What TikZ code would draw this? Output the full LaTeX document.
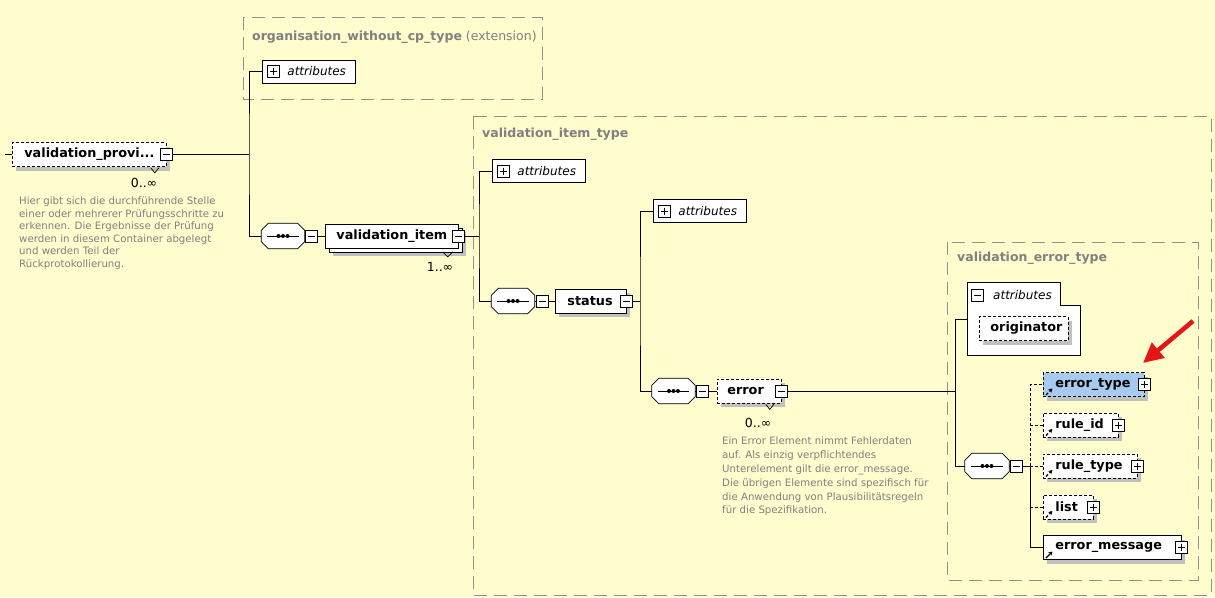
\documentclass[tikz,border=0pt]{standalone}
\usepackage{fontspec}
\setmainfont{DejaVu Sans}
\usetikzlibrary{arrows.meta,calc}
\definecolor{bgc}{RGB}{255,252,206}
\definecolor{shad}{RGB}{192,192,188}
\definecolor{tgray}{RGB}{128,128,128}
\definecolor{cgray}{RGB}{145,145,135}
\definecolor{selblue}{RGB}{166,202,240}
\definecolor{arrred}{RGB}{230,20,20}
\newcommand\seqoct[1]{%
  \fill[shad, xshift=4pt, yshift=-5pt] let \p1=(#1.north west), \p2=(#1.south east) in
    (\x1+7pt,\y1) -- (\x2-7pt,\y1) -- (\x2,\y1-7pt) -- (\x2,\y2+7pt) -- (\x2-7pt,\y2) -- (\x1+7pt,\y2) -- (\x1,\y2+7pt) -- (\x1,\y1-7pt) -- cycle;
  \filldraw[fill=white, line width=0.8pt] let \p1=(#1.north west), \p2=(#1.south east) in
    (\x1+7pt,\y1) -- (\x2-7pt,\y1) -- (\x2,\y1-7pt) -- (\x2,\y2+7pt) -- (\x2-7pt,\y2) -- (\x1+7pt,\y2) -- (\x1,\y2+7pt) -- (\x1,\y1-7pt) -- cycle;
  \draw[line width=1pt] ([xshift=6pt]#1.west) -- ([xshift=-6pt]#1.east);
  \fill ([xshift=-4.5pt]#1.center) circle[radius=2pt];
  \fill (#1.center) circle[radius=2pt];
  \fill ([xshift=4.5pt]#1.center) circle[radius=2pt];
}
\begin{document}
\begin{tikzpicture}[x=1pt,y=-1pt,
  font=\fontsize{12.8}{14}\selectfont,
  container/.style={draw=cgray, line width=1pt, dash pattern=on 13pt off 7pt},
  ctitle/.style={anchor=west, inner sep=0pt, text=tgray, font=\fontsize{12.5}{14}\selectfont\bfseries},
  shadowed/.style={preaction={fill=shad, transform canvas={shift={(4pt,-4pt)}}}},
  elembase/.style={draw, fill=white, line width=0.8pt, minimum height=24pt, inner ysep=0pt, anchor=west, align=left, font=\fontsize{12.8}{14}\selectfont\bfseries},
  elem/.style={shadowed, elembase},
  optelem/.style={elem, dash pattern=on 3pt off 2pt},
  vistack/.style={preaction={fill=shad, transform canvas={shift={(8pt,-8pt)}}},
                  preaction={draw, fill=white, line width=0.8pt, transform canvas={shift={(4pt,-4pt)}}}},
  refmark/.style={path picture={\draw[line width=1.2pt,-{Stealth[length=4pt,width=4.5pt]}] ([xshift=2.5pt,yshift=1.5pt]path picture bounding box.south west) -- ++(6.5pt,6.5pt);}},
  attrbox/.style={draw, fill=white, line width=0.8pt, minimum height=23pt, inner ysep=0pt, inner xsep=8pt, text width=77pt, anchor=west, align=left, font=\fontsize{12}{14}\selectfont\itshape},
  btn/.style={draw, fill=white, line width=0.7pt, minimum size=12pt, inner sep=0pt},
  minusbtn/.style={btn, path picture={\draw[line width=0.7pt] ([xshift=2.5pt]path picture bounding box.west) -- ([xshift=-2.5pt]path picture bounding box.east);}},
  plusbtn/.style={btn, path picture={\draw[line width=0.7pt] ([xshift=2.5pt]path picture bounding box.west) -- ([xshift=-2.5pt]path picture bounding box.east); \draw[line width=0.7pt] ([yshift=2.5pt]path picture bounding box.south) -- ([yshift=-2.5pt]path picture bounding box.north);}},
  seqnode/.style={rectangle, minimum width=43pt, minimum height=25pt, inner sep=0pt},
  wire/.style={line width=0.8pt},
  optwire/.style={wire, dash pattern=on 3pt off 2pt},
  card/.style={inner sep=0pt, font=\fontsize{12.5}{14}\selectfont},
  desc/.style={inner sep=0pt, anchor=north west, align=left, text=tgray},
  notch/.style={line width=0.7pt},
]
\fill[bgc] (0,0) rectangle (1215,597);
\useasboundingbox (0,0) rectangle (1215,597);

% containers
\draw[container] (243,17) rectangle (542,99);
\node[ctitle] (t1) at (252,37) {organisation\_without\_cp\_type\mdseries{} (extension)};
\draw[container] (473,116) rectangle (1211,595);
\node[ctitle] (t2) at (482,134) {validation\_item\_type};
\draw[container] (947,242) rectangle (1198,580);
\node[ctitle] (t3) at (957,258) {validation\_error\_type};

% top level element
\coordinate (vpin) at (5,154.5);
\node[optelem, inner xsep=12pt, text width=130pt] (vp) at (12,154.5) {validation\_provi...};
\node[minusbtn] (bvp) at (vp.east) {};
\node[card] (cvp) at (144,183) {0..∞};
\draw[notch] ([xshift=-16pt,yshift=-1pt]vp.south east) -- ++(4,5) -- ++(4,-5);
\node[desc, font=\fontsize{10.2}{12.5}\selectfont] (dvp) at (19,197) {Hier gibt sich die durchführende Stelle\\einer oder mehrerer Prüfungsschritte zu\\erkennen. Die Ergebnisse der Prüfung\\werden in diesem Container abgelegt\\und werden Teil der\\Rückprotokollierung.};
\coordinate (j1) at (249,154.5);

\node[attrbox] (a1) at (262,71.5) {\hspace*{17pt}attributes};
\node[plusbtn] (pa1) at (273.5,71.5) {};
\node[seqnode] (s1) at (283,236) {};
\seqoct{s1}
\node[minusbtn] (bs1) at (311.5,236) {};
\node[elembase, vistack, inner xsep=11pt, text width=111pt] (vi) at (325,236) {validation\_item};
\node[minusbtn] (bvi) at (vi.east) {};
\node[card] (cvi) at (440,267) {1..∞};
\draw[notch] ([xshift=-16pt,yshift=-3.5pt]vi.south east) -- ++(5,5) -- ++(5,-5);
\coordinate (j2) at (479,236);

% validation_item_type
\node[attrbox] (a2) at (492,171) {\hspace*{17pt}attributes};
\node[plusbtn] (pa2) at (503.5,171) {};
\node[seqnode] (s2) at (513,301) {};
\seqoct{s2}
\node[minusbtn] (bs2) at (542,301) {};
\node[elem, inner xsep=12pt, text width=47pt] (st) at (555,301) {status};
\node[minusbtn] (bst) at (st.east) {};
\coordinate (j3) at (640,301);

\node[attrbox] (a3) at (653,211) {\hspace*{17pt}attributes};
\node[plusbtn] (pa3) at (664.5,211) {};
\node[seqnode] (s3) at (673.5,391) {};
\seqoct{s3}
\node[minusbtn] (bs3) at (702.5,391) {};
\node[optelem, inner xsep=10pt, text width=44pt] (er) at (717,391) {error};
\node[minusbtn] (ber) at (er.east) {};
\node[card] (cer) at (758,423) {0..∞};
\draw[notch] ([xshift=-16pt,yshift=-1pt]er.south east) -- ++(4,5) -- ++(4,-5);
\node[desc, font=\fontsize{10.2}{13.8}\selectfont] (der) at (722,437) {Ein Error Element nimmt Fehlerdaten\\auf. Als einzig verpflichtendes\\Unterelement gilt die error\_message.\\Die übrigen Elemente sind spezifisch für\\die Anwendung von Plausibilitätsregeln\\für die Spezifikation.};
\coordinate (j4) at (955,391);

% validation_error_type
\draw[line width=0.8pt, fill=white] (967,282) -- (1060,282) -- (1060,305) -- (1080,305) -- (1080,355) -- (967,355) -- cycle;
\node[minusbtn] (ba4) at (977.5,295) {};
\node[anchor=west, inner sep=0pt, font=\fontsize{12}{14}\selectfont\itshape] (a4) at (993,295) {attributes};
\node[optelem, inner xsep=11pt, text width=67pt] (orig) at (979,328.5) {originator};
\coordinate (a4in) at (967,319);

\node[seqnode, minimum width=44pt] (s4) at (987,466) {};
\seqoct{s4}
\node[minusbtn] (bs4) at (1016.5,466) {};
\coordinate (j5) at (1030,466);
\node[optelem, refmark, fill=selblue, inner xsep=12pt, text width=77pt] (et) at (1043,384.5) {error\_type};
\node[plusbtn] (bet) at (et.east) {};
\node[optelem, refmark, inner xsep=12pt, text width=51pt] (ri) at (1043,425) {rule\_id};
\node[plusbtn] (bri) at (ri.east) {};
\node[optelem, refmark, inner xsep=12pt, text width=70pt] (rt) at (1043,466) {rule\_type};
\node[plusbtn] (brt) at (rt.east) {};
\node[optelem, refmark, inner xsep=12pt, text width=26pt] (li) at (1043,507) {list};
\node[plusbtn] (bli) at (li.east) {};
\node[elem, refmark, inner xsep=12pt, text width=114pt] (em) at (1043,547.5) {error\_message};
\node[plusbtn] (bem) at (em.east) {};

% connectors
\draw[wire] (vpin) -- (vp.west);
\draw[wire] (bvp.east) -- (j1);
\draw[wire] (a1.west) -| (j1) |- (s1.west);
\draw[wire] (s1.east) -- (bs1.west);
\draw[wire] (bs1.east) -- (vi.west);
\draw[wire] (bvi.east) -- (j2);
\draw[wire] (a2.west) -| (j2) |- (s2.west);
\draw[wire] (s2.east) -- (bs2.west);
\draw[wire] (bs2.east) -- (st.west);
\draw[wire] (bst.east) -- (j3);
\draw[wire] (a3.west) -| (j3) |- (s3.west);
\draw[wire] (s3.east) -- (bs3.west);
\draw[wire] (bs3.east) -- (er.west);
\draw[wire] (ber.east) -- (j4);
\draw[wire] (a4in) -| (j4) |- (s4.west);
\draw[wire] (s4.east) -- (bs4.west);
\draw[wire] (bs4.east) -- (j5);
\draw[optwire] (j5) |- (et.west);
\draw[optwire] (j5 |- ri.west) -- (ri.west);
\draw[optwire] (j5) -- (rt.west);
\draw[optwire] (j5 |- li.west) -- (li.west);
\draw[wire] (j5) |- (em.west);

% red marker arrow
\coordinate (ra0) at (1193,321);
\coordinate (ra1) at (1143,363);
\draw[arrred, line width=4.5pt, -{Triangle[length=20pt,width=19pt]}] (ra0) -- (ra1);
\end{tikzpicture}
\end{document}
